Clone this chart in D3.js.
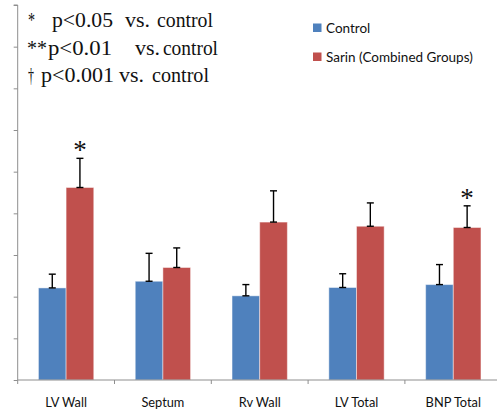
<!DOCTYPE html>
<html>
<head>
<meta charset="utf-8">
<script src="https://cdn.jsdelivr.net/npm/d3@7/dist/d3.min.js"></script>
<style>
  html, body { margin: 0; padding: 0; background: #fff; }
  svg { display: block; }
</style>
</head>
<body>
<svg id="chart" width="497" height="415"></svg>
<script>
// Measurement groups along the x axis
const categories = ["LV Wall", "Septum", "Rv Wall", "LV Total", "BNP Total"];
const seriesNames = ["Control", "Sarin (Combined Groups)"];
// Mean values (arbitrary units) for each group
const controlValues = [2.21, 2.37, 2.02, 2.22, 2.29];
const sarinValues   = [4.62, 2.70, 3.79, 3.69, 3.66];
// Upper error bar extent (mean + error)
const controlErrTop = [2.54, 3.04, 2.29, 2.55, 2.77];
const sarinErrTop   = [5.32, 3.17, 4.54, 4.25, 4.18];
// Significance markers above the sarin bars
const sarinMarks = ["*", "", "", "", "*"];
// Y axis ticks (unlabelled)
const yTicks = [0, 1, 2, 3, 4, 5, 6, 7, 8, 9];

const colors = ["#4F81BD", "#C0504D"];
const axisColor = "#8e8e8e";
const sansFont = "Lato, 'Open Sans', sans-serif";
const serifFont = "'Liberation Serif', 'Times New Roman', serif";

const svg = d3.select("#chart");

const x0 = d3.scaleBand().domain(categories).range([17.7, 501.7]).paddingInner(0).paddingOuter(0);
const x1 = d3.scaleBand().domain(seriesNames).range([0, x0.bandwidth()]).paddingInner(0).paddingOuter(0.75);
const y = d3.scaleLinear().domain([0, 9]).range([380, 5]);

const rows = categories.map((c, i) => ({
  cat: c,
  items: [
    { s: seriesNames[0], v: controlValues[i], e: controlErrTop[i], mark: "" },
    { s: seriesNames[1], v: sarinValues[i], e: sarinErrTop[i], mark: sarinMarks[i] }
  ]
}));

// Bars
const groups = svg.append("g").selectAll("g").data(rows).join("g")
  .attr("transform", d => `translate(${x0(d.cat)},0)`);

groups.selectAll("rect").data(d => d.items).join("rect")
  .attr("x", d => x1(d.s))
  .attr("y", d => y(d.v))
  .attr("width", x1.bandwidth())
  .attr("height", d => y(0) - y(d.v))
  .attr("fill", (d, i) => colors[i])
  .attr("stroke", "#ffffff")
  .attr("stroke-opacity", 0.45)
  .attr("stroke-width", 1);

// Error bars (upper only)
const cx = d => x1(d.s) + x1.bandwidth() / 2;
const eb = groups.selectAll("g.err").data(d => d.items).join("g").attr("class", "err");
eb.append("line")
  .attr("x1", cx).attr("x2", cx)
  .attr("y1", d => y(d.v)).attr("y2", d => y(d.e))
  .attr("stroke", "#000").attr("stroke-width", 1.4);
eb.append("line")
  .attr("x1", d => cx(d) - 3.5).attr("x2", d => cx(d) + 3.5)
  .attr("y1", d => y(d.e)).attr("y2", d => y(d.e))
  .attr("stroke", "#000").attr("stroke-width", 1.4);
eb.append("line")
  .attr("x1", d => cx(d) - 3.5).attr("x2", d => cx(d) + 3.5)
  .attr("y1", d => y(d.v)).attr("y2", d => y(d.v))
  .attr("stroke", "#000").attr("stroke-width", 1.4);

// Significance asterisks
eb.filter(d => d.mark).append("text")
  .attr("x", cx)
  .attr("y", d => y(d.e) + 1)
  .attr("text-anchor", "middle")
  .attr("font-family", serifFont)
  .attr("font-size", 27)
  .attr("fill", "#111")
  .text(d => d.mark);

// Y axis
const yAxis = d3.axisLeft(y).tickValues(yTicks).tickSize(4).tickFormat("");
const gy = svg.append("g").attr("transform", "translate(17.7,0)").call(yAxis);
gy.select(".domain").attr("stroke", axisColor).attr("d", `M-4,${y(9)}H0V${y(0)}`);
gy.selectAll(".tick line").attr("stroke", axisColor);

// X axis
const boundaries = categories.map(c => x0(c));
const gx = svg.append("g").attr("transform", `translate(0,${y(0)})`);
gx.append("line").attr("x1", 17.7).attr("x2", 497).attr("y1", 0).attr("y2", 0).attr("stroke", axisColor);
gx.selectAll("line.tk").data(boundaries).join("line").attr("class", "tk")
  .attr("x1", d => d).attr("x2", d => d).attr("y1", 0).attr("y2", 4)
  .attr("stroke", axisColor);
gx.selectAll("text").data(categories).join("text")
  .attr("x", d => x0(d) + x0.bandwidth() / 2)
  .attr("y", 27)
  .attr("text-anchor", "middle")
  .attr("font-family", sansFont)
  .attr("font-size", 12.8)
  .attr("fill", "#111")
  .text(d => d);

// Legend
const legend = svg.append("g");
seriesNames.forEach((s, i) => {
  const ly = 23.5 + i * 29;
  legend.append("rect").attr("x", 313).attr("y", ly).attr("width", 8.5).attr("height", 8.5).attr("fill", colors[i]);
  legend.append("text").attr("x", 326).attr("y", ly + 9)
    .attr("font-family", sansFont)
    .attr("font-size", 13.5)
    .attr("fill", "#111")
    .text(s);
});

// Significance key: [text, x start, width]
const keyLines = [
  [["*", 28, 7], ["p<0.05", 52, 61], ["vs.", 125, 25], ["control", 157, 56]],
  [["**", 27, 20], ["p<0.01", 48, 64], ["vs.", 135, 25], ["control", 163, 55]],
  [["\u2020", 28, 6], ["p<0.001", 41, 73], ["vs.", 119, 25], ["control", 152, 57]]
];
const key = svg.append("g")
  .attr("font-family", serifFont)
  .attr("font-size", 21)
  .attr("fill", "#111");
keyLines.forEach((parts, i) => {
  const ly = 27 + i * 27.5;
  parts.forEach(([txt, px, w]) => {
    key.append("text").attr("x", px).attr("y", ly)
      .attr("textLength", w).attr("lengthAdjust", "spacingAndGlyphs")
      .text(txt);
  });
});
</script>
</body>
</html>
